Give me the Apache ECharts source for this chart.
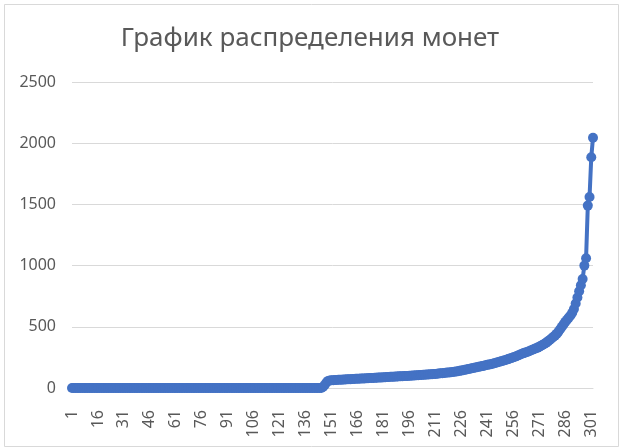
<!DOCTYPE html>
<html>
<head>
<meta charset="utf-8">
<script src="https://cdn.jsdelivr.net/npm/echarts@6/dist/echarts.min.js"></script>
<style>
html,body{margin:0;padding:0;background:#fff;}
#chart{width:620px;height:447px;}
</style>
</head>
<body>
<div id="chart"></div>
<script>
const titleText = "График распределения монет";
const categoryCount = 302;
const categories = Array.from({length: categoryCount}, (_, i) => String(i + 1));
const yTicks = [0, 500, 1000, 1500, 2000, 2500];
// values for coins 1..145 (zeros)
const zeroPart = [
0,0,0,0,0,0,0,0,0,0, 0,0,0,0,0,0,0,0,0,0, 0,0,0,0,0,0,0,0,0,0,
0,0,0,0,0,0,0,0,0,0, 0,0,0,0,0,0,0,0,0,0, 0,0,0,0,0,0,0,0,0,0,
0,0,0,0,0,0,0,0,0,0, 0,0,0,0,0,0,0,0,0,0, 0,0,0,0,0,0,0,0,0,0,
0,0,0,0,0,0,0,0,0,0, 0,0,0,0,0,0,0,0,0,0, 0,0,0,0,0,0,0,0,0,0,
0,0,0,0,0,0,0,0,0,0, 0,0,0,0,0,0,0,0,0,0, 0,0,0,0,0
];
// values for coins 146..302
const risingPart = [
8,25,45,58,62,
63,64,65,66,67,68,68,69,70,71,
72,72,73,74,75,75,76,77,78,78,
79,80,81,81,82,83,84,85,86,86,
87,88,89,90,91,92,92,93,94,95,
96,97,98,98,99,100,101,102,103,104,
105,106,107,108,109,110,111,112,113,114,
115,117,118,120,121,123,124,126,127,129,
131,133,135,137,140,143,146,149,152,155,
158,161,164,167,170,173,176,179,182,186,
189,192,195,199,202,206,210,214,218,222,
226,231,236,241,246,251,256,262,268,274,
280,285,290,295,300,306,312,318,324,330,
338,346,354,362,371,381,392,404,416,428,
442,460,480,500,520,540,558,575,592,615,
645,690,740,790,840,890,1000,1060,1490,1560,1885,2045
];
const values = zeroPart.concat(risingPart);

const chart = echarts.init(document.getElementById('chart'), null, {renderer: 'canvas'});
chart.setOption({
  backgroundColor: '#ffffff',
  animation: false,
  graphic: [{
    type: 'rect', left: 2, top: 2, silent: true,
    shape: {width: 614, height: 442},
    style: {fill: 'none', stroke: '#d9d9d9', lineWidth: 1}
  }],
  title: {
    text: titleText, left: 'center', top: 21,
    textStyle: {fontFamily: 'Noto Sans', fontSize: 26, fontWeight: 'normal', color: '#595959'}
  },
  grid: {left: 72, right: 27, top: 82, bottom: 59, containLabel: false},
  xAxis: {
    type: 'category', data: categories, boundaryGap: false,
    axisLine: {show: true, lineStyle: {color: '#d9d9d9', width: 1}},
    axisTick: {show: false},
    axisLabel: {
      interval: 14, rotate: 90, margin: 22,
      fontFamily: 'Noto Sans', fontSize: 16, color: '#595959'
    },
    splitLine: {show: false}
  },
  yAxis: {
    type: 'value', min: yTicks[0], max: yTicks[yTicks.length - 1], interval: 500,
    axisLine: {show: false}, axisTick: {show: false},
    axisLabel: {margin: 16, fontFamily: 'Noto Sans', fontSize: 16, color: '#595959',
      formatter: v => String(v)},
    splitLine: {lineStyle: {color: '#d9d9d9', width: 1}}
  },
  series: [{
    type: 'line', data: values,
    symbol: 'circle', symbolSize: 10, showAllSymbol: true,
    lineStyle: {color: '#4472C4', width: 4},
    itemStyle: {color: '#4472C4'}
  }]
});
</script>
</body>
</html>
